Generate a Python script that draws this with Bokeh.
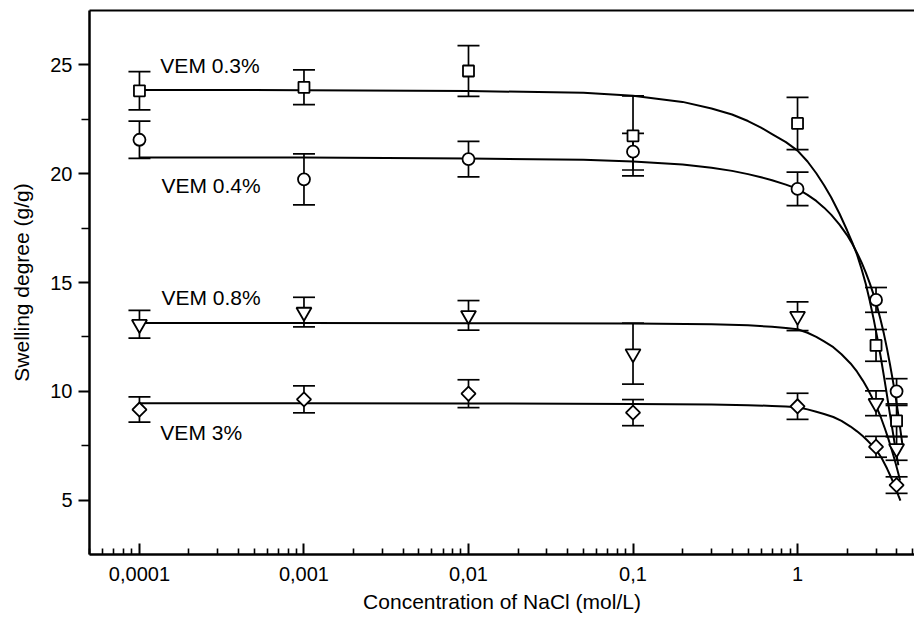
import numpy as np
from bokeh.plotting import figure
from bokeh.models import (ColumnDataSource, Whisker, TeeHead, FixedTicker, LogAxis,
                          CustomJSTickFormatter, Range1d)
from bokeh.core.properties import value
from bokeh.embed import file_html
from bokeh.resources import INLINE

# ---- data ----
conc = [1e-4, 1e-3, 1e-2, 0.1, 1, 3, 4]

vem03 = [23.81, 23.97, 24.72, 21.74, 22.31, 12.11, 8.64]
err03 = [0.88, 0.80, 1.17, 1.84, 1.20, 0.73, 0.71]
vem04 = [21.56, 19.74, 20.67, 21.01, 19.30, 14.20, 10.00]
err04 = [0.86, 1.17, 0.82, 0.84, 0.77, 0.57, 0.58]
vem08 = [13.08, 13.64, 13.49, 11.73, 13.45, 9.45, 7.37]
err08 = [0.64, 0.68, 0.68, 1.40, 0.66, 0.57, 0.54]
vem3 = [9.16, 9.63, 9.89, 9.02, 9.31, 7.45, 5.69]
err3 = [0.58, 0.62, 0.64, 0.60, 0.60, 0.48, 0.38]

# fitted curves
fit03_c = [1e-4, 1e-3, 1e-2, 0.05, 0.1, 0.2, 0.3, 0.4, 0.5, 0.6, 0.7, 0.85, 1.0, 1.15, 1.3,
           1.45, 1.6, 1.8, 2.0, 2.15, 2.3, 2.45, 2.6, 2.75, 2.9, 3.05, 3.2, 3.35, 3.5,
           3.65, 3.8, 3.95, 4.1]
fit03 = [23.85, 23.84, 23.80, 23.72, 23.58, 23.30, 23.00, 22.72, 22.42, 22.12, 21.82, 21.45, 21.06,
         20.56, 20.02, 19.47, 18.92, 18.16, 17.40, 16.84, 16.28, 15.62, 14.93, 14.15, 13.33,
         12.48, 11.60, 10.70, 9.80, 8.92, 8.10, 7.30, 6.60]
fit04_c = [1e-4, 1e-3, 1e-2, 0.05, 0.1, 0.2, 0.3, 0.4, 0.5, 0.6, 0.7, 0.85, 1.0, 1.15, 1.3,
           1.45, 1.6, 1.8, 2.0, 2.15, 2.3, 2.45, 2.6, 2.75, 2.9, 3.05, 3.2, 3.35, 3.5,
           3.65, 3.8, 3.95, 4.1, 4.25, 4.35]
fit04 = [20.75, 20.74, 20.70, 20.64, 20.56, 20.42, 20.27, 20.13, 19.98, 19.84, 19.70, 19.50, 19.30,
         19.03, 18.75, 18.44, 18.12, 17.66, 17.18, 16.78, 16.36, 15.92, 15.45, 14.96, 14.44,
         13.88, 13.28, 12.64, 11.95, 11.22, 10.48, 9.72, 8.92, 8.05, 7.50]
fit08_c = [1e-4, 1e-3, 1e-2, 0.1, 0.3, 0.5, 0.7, 0.85, 1.0, 1.15, 1.3, 1.45, 1.65, 1.85, 2.1,
           2.3, 2.5, 2.65, 2.8, 3.0, 3.2, 3.4, 3.55, 3.7, 3.85, 3.95, 4.1, 4.2]
fit08 = [13.14, 13.14, 13.13, 13.12, 13.08, 13.03, 12.97, 12.91, 12.85, 12.69, 12.50, 12.29, 12.03,
         11.70, 11.28, 10.90, 10.48, 10.15, 9.80, 9.33, 8.83, 8.28, 7.86, 7.42, 6.98, 6.68, 6.22, 5.90]
fit3_c = [1e-4, 1e-3, 1e-2, 0.1, 0.3, 0.5, 0.7, 0.85, 1.0, 1.15, 1.3, 1.45, 1.65, 1.85, 2.1,
          2.3, 2.5, 2.65, 2.8, 3.05, 3.25, 3.5, 3.7, 3.85, 4.0, 4.1, 4.22]
fit3 = [9.45, 9.45, 9.44, 9.42, 9.39, 9.36, 9.33, 9.30, 9.27, 9.17, 9.06, 8.96, 8.82, 8.64, 8.38,
        8.16, 7.93, 7.75, 7.56, 7.24, 6.92, 6.45, 6.05, 5.75, 5.44, 5.22, 4.98]

labels = ["VEM 0.3%", "VEM 0.4%", "VEM 0.8%", "VEM 3%"]
label_x = [1.34e-4, 1.36e-4, 1.36e-4, 1.34e-4]
label_y = [24.95, 19.44, 14.31, 8.10]

major_x = [1e-4, 1e-3, 1e-2, 1e-1, 1]
minor_x = [m * d for d in [1e-5, 1e-4, 1e-3, 1e-2, 1e-1, 1] for m in range(2, 10)]
major_y = [5, 10, 15, 20, 25]
minor_y = [7.5, 12.5, 17.5, 22.5]

FONT = "Liberation Sans"

p = figure(width=914, height=631, x_axis_type="log",
           x_range=Range1d(4.97e-5, 5.14), y_range=Range1d(2.5, 27.5),
           output_backend="svg", toolbar_location=None,
           min_border_left=89, min_border_right=0, min_border_top=10, min_border_bottom=77)
p.outline_line_color = None
p.xgrid.visible = False
p.ygrid.visible = False
p.background_fill_color = "white"
p.border_fill_color = "white"

# axes
xa = p.xaxis[0]
xa.ticker = FixedTicker(ticks=major_x, minor_ticks=minor_x)
xa.formatter = CustomJSTickFormatter(code="return tick.toString().replace('.', ',');")
xa.major_tick_in = 11
xa.major_tick_out = 0
xa.minor_tick_in = 6
xa.minor_tick_out = 0
xa.major_label_standoff = 12
xa.axis_label = "Concentration of NaCl (mol/L)"
xa.axis_label_standoff = 6

ya = p.yaxis[0]
ya.ticker = FixedTicker(ticks=major_y, minor_ticks=minor_y)
ya.major_tick_in = 0
ya.major_tick_out = 11
ya.minor_tick_in = 0
ya.minor_tick_out = 8
ya.major_label_standoff = 6
ya.axis_label = "Swelling degree (g/g)"
ya.axis_label_standoff = 14

for ax in (xa, ya):
    ax.axis_line_width = 2.5
    ax.axis_line_color = "black"
    ax.major_tick_line_width = 2
    ax.minor_tick_line_width = 1.6
    ax.major_label_text_font = FONT
    ax.major_label_text_font_size = "20px"
    ax.major_label_text_color = "black"
    ax.axis_label_text_font = FONT
    ax.axis_label_text_font_size = "21px"
    ax.axis_label_text_font_style = "normal"
    ax.axis_label_text_color = "black"

top = LogAxis(ticker=FixedTicker(ticks=[]), major_label_text_font_size="0px",
              major_tick_out=0, minor_tick_out=0, axis_line_width=2)
p.add_layout(top, "above")

series = [
    (vem03, err03, fit03_c, fit03, "square", 11, 0.0),
    (vem04, err04, fit04_c, fit04, "circle", 12, 0.0),
    (vem08, err08, fit08_c, fit08, "inverted_triangle", 15, 0.0),
    (vem3, err3, fit3_c, fit3, "square", 10, np.pi / 4),
]

for vals, errs, fc, fit, marker, size, ang in series:
    up = [v + e for v, e in zip(vals, errs)]
    lo = [v - e for v, e in zip(vals, errs)]
    src = ColumnDataSource(dict(x=conc, y=vals, upper=up, lower=lo))
    w = Whisker(source=src, base="x", upper="upper", lower="lower",
                line_color="black", line_width=1.7, level="underlay",
                upper_head=TeeHead(size=22, line_width=1.7, line_color="black"),
                lower_head=TeeHead(size=22, line_width=1.7, line_color="black"))
    p.add_layout(w)
    p.line(fc, fit, line_color="black", line_width=2, line_join="round")

for vals, errs, fc, fit, marker, size, ang in series:
    p.scatter(conc, vals, marker=marker, size=size, angle=ang,
              fill_color="white", line_color="black", line_width=1.8)

p.text(x=label_x, y=label_y, text=labels, text_font=value(FONT),
       text_font_size="21px", text_align="left", text_baseline="middle",
       text_color="black")

open("out.html", "w").write(file_html(p, INLINE))
